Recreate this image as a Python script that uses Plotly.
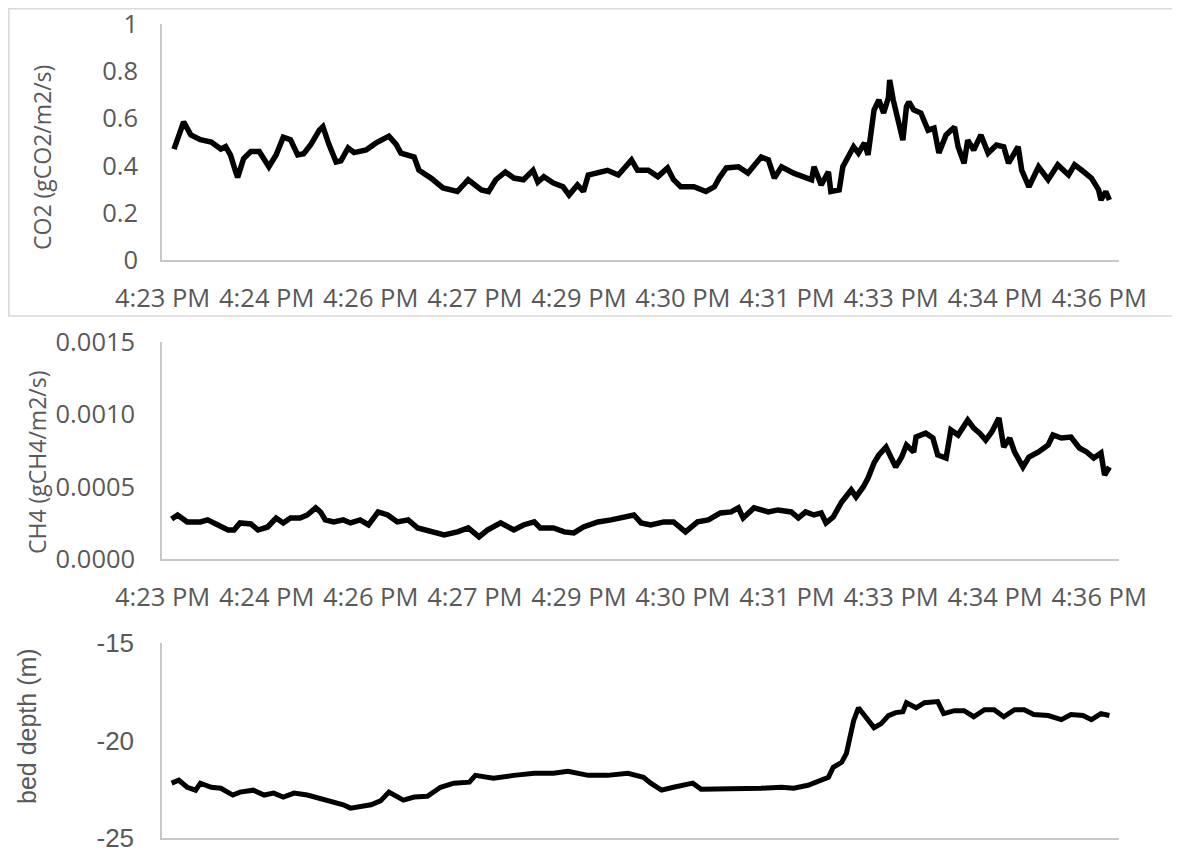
import plotly.graph_objects as go

# ---------------- data (elapsed seconds from start of record) ----------------
tick_labels = ["4:23 PM", "4:24 PM", "4:26 PM", "4:27 PM", "4:29 PM",
               "4:30 PM", "4:31 PM", "4:33 PM", "4:34 PM", "4:36 PM"]
tick_pos = [-7.5, 79.2, 165.8, 252.5, 339.2, 425.8, 512.5, 599.2, 685.8, 772.5]

co2_t = [2, 10, 16, 24, 33, 41, 45, 49, 53, 55, 60, 66, 73, 78, 81, 87, 93, 99, 105, 110,
         116, 123, 126, 131, 137, 141, 147, 152, 162, 170, 181, 187, 191, 202, 206, 216, 226,
         238, 247, 258, 264, 270, 278, 285, 293, 301, 305, 310, 318, 326, 331, 338, 343, 347,
         355, 363, 372, 383, 388, 397, 405, 413, 418, 424, 435, 445, 452, 456, 462, 472, 480,
         491, 497, 502, 508, 518, 533, 535, 541, 547, 549, 556, 559, 563, 568, 572, 577, 580,
         583, 585, 589, 593, 597, 598, 601, 603, 606, 609, 612, 614, 618, 624, 630, 635, 639,
         645, 652, 655, 660, 663, 668, 674, 680, 687, 693, 697, 705, 708, 714, 722, 730, 738,
         747, 752, 758, 766, 772, 774, 778, 781]
co2_v = [0.47, 0.585, 0.53, 0.51, 0.50, 0.47, 0.48, 0.445, 0.38, 0.35, 0.43, 0.46, 0.46, 0.415,
         0.395, 0.445, 0.52, 0.51, 0.445, 0.45, 0.49, 0.55, 0.565, 0.49, 0.415, 0.42, 0.475,
         0.455, 0.466, 0.495, 0.525, 0.49, 0.453, 0.436, 0.38, 0.347, 0.305, 0.29, 0.34, 0.297,
         0.29, 0.34, 0.373, 0.347, 0.34, 0.38, 0.33, 0.353, 0.326, 0.31, 0.275, 0.318, 0.29,
         0.36, 0.373, 0.38, 0.36, 0.424, 0.38, 0.38, 0.353, 0.39, 0.34, 0.31, 0.31, 0.29, 0.31,
         0.347, 0.39, 0.395, 0.368, 0.436, 0.424, 0.347, 0.395, 0.368, 0.34, 0.395, 0.318,
         0.373, 0.29, 0.297, 0.395, 0.436, 0.48, 0.453, 0.496, 0.445, 0.55, 0.636, 0.678,
         0.623, 0.69, 0.763, 0.678, 0.636, 0.593, 0.508, 0.65, 0.67, 0.636, 0.623, 0.55, 0.559,
         0.453, 0.53, 0.564, 0.48, 0.41, 0.508, 0.466, 0.53, 0.453, 0.487, 0.48, 0.41, 0.48,
         0.38, 0.31, 0.395, 0.34, 0.403, 0.36, 0.403, 0.38, 0.347, 0.297, 0.254, 0.29, 0.254]
co2_ticks = [0, 0.2, 0.4, 0.6, 0.8, 1]
co2_tick_text = ["0", "0.2", "0.4", "0.6", "0.8", "1"]

ch4_t = [0, 5, 13, 24, 30, 38, 47, 52, 57, 66, 72, 80, 87, 93, 99, 107, 113, 120, 124, 128,
         135, 143, 149, 157, 164, 172, 180, 188, 197, 205, 216, 227, 238, 247, 256, 263, 274,
         285, 293, 302, 307, 318, 327, 335, 343, 355, 366, 377, 385, 391, 399, 410, 418, 428,
         438, 447, 457, 466, 472, 476, 485, 497, 505, 516, 522, 528, 535, 541, 545, 551, 558,
         566, 570, 576, 580, 585, 589, 595, 599, 603, 608, 612, 618, 620, 628, 634, 638, 645,
         649, 655, 663, 668, 673, 678, 683, 689, 693, 698, 702, 709, 714, 722, 730, 734, 741,
         749, 756, 762, 768, 774, 777, 781]
ch4_v = [0.000276, 0.000304, 0.000256, 0.000256, 0.00027, 0.000235, 0.0002, 0.0002, 0.000249,
         0.000242, 0.0002, 0.000221, 0.000283, 0.000249, 0.000283, 0.000283, 0.000304,
         0.000353, 0.000325, 0.00027, 0.000256, 0.00027, 0.000249, 0.00027, 0.000235,
         0.000325, 0.000304, 0.000256, 0.00027, 0.000214, 0.000187, 0.000166, 0.000187,
         0.000214, 0.000152, 0.0002, 0.000249, 0.0002, 0.000235, 0.000256, 0.000214, 0.000214,
         0.000187, 0.00018, 0.000221, 0.000256, 0.00027, 0.00029, 0.000304, 0.000249, 0.000235,
         0.000256, 0.000256, 0.000187, 0.000256, 0.00027, 0.000318, 0.000325, 0.000353,
         0.000283, 0.000353, 0.000325, 0.000339, 0.000325, 0.000283, 0.000325, 0.000304,
         0.000318, 0.000249, 0.00029, 0.000394, 0.000477, 0.000429, 0.000498, 0.00056,
         0.000664, 0.000719, 0.000774, 0.000705, 0.000636, 0.000705, 0.000788, 0.00074,
         0.000843, 0.00087, 0.000836, 0.000719, 0.000698, 0.000892, 0.000857, 0.00096,
         0.000905, 0.00087, 0.000822, 0.000878, 0.000975, 0.000774, 0.000836, 0.00074,
         0.000636, 0.000705, 0.00074, 0.000788, 0.000857, 0.000836, 0.000843, 0.000767,
         0.00074, 0.000698, 0.000733, 0.00058, 0.000636]
ch4_ticks = [0, 0.0005, 0.0010, 0.0015]
ch4_tick_text = ["0.0000", "0.0005", "0.0010", "0.0015"]

bed_t = [0, 6, 13, 20, 24, 33, 41, 51, 57, 68, 77, 85, 93, 102, 113, 124, 135, 143, 149, 157,
         166, 174, 181, 193, 202, 213, 224, 235, 248, 253, 268, 285, 302, 318, 330, 347, 363,
         380, 393, 399, 408, 418, 434, 441, 457, 474, 491, 508, 518, 530, 541, 547, 551, 558,
         562, 564, 568, 572, 578, 585, 591, 597, 603, 609, 612, 620, 627, 638, 643, 652, 660,
         668, 677, 685, 693, 702, 710, 718, 730, 741, 749, 759, 766, 774, 781]
bed_v = [-22.19, -22.04, -22.4, -22.55, -22.19, -22.4, -22.45, -22.8, -22.65, -22.55, -22.8,
         -22.7, -22.9, -22.7, -22.8, -22.96, -23.16, -23.3, -23.47, -23.42, -23.3, -23.1,
         -22.65, -23.06, -22.9, -22.86, -22.4, -22.19, -22.14, -21.79, -21.94, -21.79, -21.68,
         -21.68, -21.58, -21.79, -21.79, -21.68, -21.89, -22.19, -22.55, -22.4, -22.19, -22.5,
         -22.5, -22.45, -22.45, -22.4, -22.45, -22.3, -22.04, -21.89, -21.38, -21.12, -20.66,
         -20.0, -18.98, -18.32, -18.83, -19.34, -19.13, -18.72, -18.57, -18.52, -18.06, -18.32,
         -18.06, -18.0, -18.62, -18.47, -18.47, -18.78, -18.42, -18.42, -18.78, -18.42, -18.42,
         -18.67, -18.72, -18.93, -18.67, -18.72, -18.93, -18.62, -18.72]
bed_ticks = [-25, -20, -15]
bed_tick_text = ["-25", "-20", "-15"]

# ---------------- figure ----------------
OFF = 8                      # page body margin
W, H = 1180 - OFF, 853 - OFF
GRAY_TXT = "#595959"
AX_LINE = "#C8C8C8"
CAL = "Open Sans, Noto Sans, sans-serif"
ARI = "Liberation Sans, Arial, sans-serif"

def px(p):  # page pixel (from left) -> paper fraction
    return (p - OFF) / W

def py(p):  # page pixel (from top) -> paper fraction
    return 1 - (p - OFF) / H

xdom = [px(162), px(1119)]
xrange_ = [-8, 789]

fig = go.Figure()
fig.add_trace(go.Scatter(x=co2_t, y=co2_v, mode="lines", xaxis="x", yaxis="y",
                         line=dict(color="black", width=5.5), showlegend=False))
fig.add_trace(go.Scatter(x=ch4_t, y=ch4_v, mode="lines", xaxis="x2", yaxis="y2",
                         line=dict(color="black", width=5.5), showlegend=False))
fig.add_trace(go.Scatter(x=bed_t, y=bed_v, mode="lines", xaxis="x3", yaxis="y3",
                         line=dict(color="black", width=5), showlegend=False))

common_x = dict(domain=xdom, range=xrange_, showgrid=False, zeroline=False,
                showline=True, linecolor=AX_LINE, linewidth=1.5, ticks="",
                tickmode="array", tickvals=tick_pos, ticktext=tick_labels,
                ticklabelstandoff=15, fixedrange=True, automargin=False,
                ticklabeloverflow="allow")
common_y = dict(showgrid=False, zeroline=False, showline=True, linecolor=AX_LINE,
                linewidth=1.5, ticks="", fixedrange=True, automargin=False, tickmode="array",
                ticklabeloverflow="allow")
TF = dict(family=CAL, size=25.5, color=GRAY_TXT)

fig.update_layout(
    width=W, height=H, margin=dict(l=0, r=0, t=0, b=0, pad=0, autoexpand=False),
    paper_bgcolor="white", plot_bgcolor="white",
    xaxis=dict(**common_x, anchor="y", tickfont=TF),
    xaxis2=dict(**common_x, anchor="y2", tickfont=TF),
    xaxis3=dict(**{**common_x, "showticklabels": False}, anchor="y3"),
    yaxis=dict(**common_y, domain=[py(260), py(24)], range=[-0.0005, 1.0005], anchor="x",
               tickvals=co2_ticks, ticktext=co2_tick_text,
               tickfont=TF, ticklabelstandoff=17),
    yaxis2=dict(**common_y, domain=[py(559), py(342)], range=[-0.0000005, 0.0015005], anchor="x2",
                tickvals=ch4_ticks, ticktext=ch4_tick_text,
                tickfont=TF, ticklabelstandoff=20),
    yaxis3=dict(**common_y, domain=[py(838), py(643)], range=[-25.005, -14.995], anchor="x3",
                tickvals=bed_ticks, ticktext=bed_tick_text,
                tickfont=dict(family=ARI, size=26, color=GRAY_TXT), ticklabelstandoff=21),
)

# frame around the top chart
fig.add_shape(type="rect", xref="paper", yref="paper", x0=px(8.8), x1=1.01, y0=py(316), y1=py(8.8),
              line=dict(color="#D9D9D9", width=1.5), fillcolor="rgba(0,0,0,0)", layer="below")

# axis titles
fig.add_annotation(text="CO2 (gCO2/m2/s)", x=px(42), y=py(158), xref="paper", yref="paper",
                   textangle=-90, showarrow=False, xanchor="center", yanchor="middle",
                   font=dict(family=CAL, size=23, color=GRAY_TXT))
fig.add_annotation(text="CH4 (gCH4/m2/s)", x=px(37), y=py(462), xref="paper", yref="paper",
                   textangle=-90, showarrow=False, xanchor="center", yanchor="middle",
                   font=dict(family=CAL, size=23, color=GRAY_TXT))
fig.add_annotation(text="bed depth (m)", x=px(27), y=py(726), xref="paper", yref="paper",
                   textangle=-90, showarrow=False, xanchor="center", yanchor="middle",
                   font=dict(family=ARI, size=25, color=GRAY_TXT))

fig.write_html("out.html")
